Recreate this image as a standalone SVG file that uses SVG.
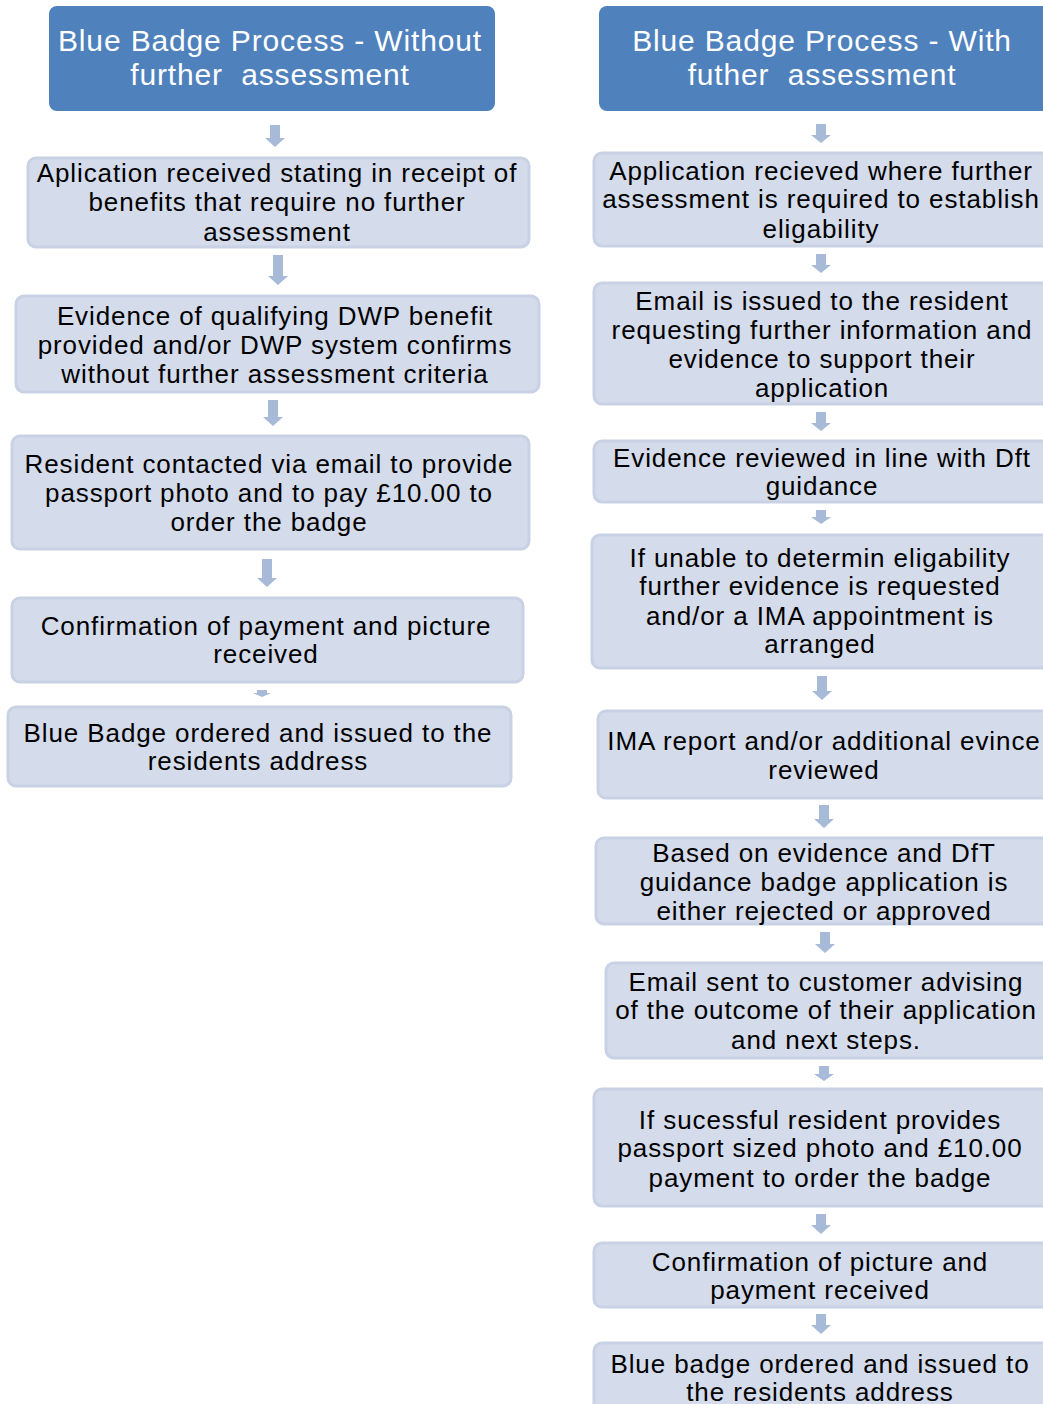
<svg xmlns="http://www.w3.org/2000/svg" width="1043" height="1404" viewBox="0 0 1043 1404">
<style>
.hdr{fill:#4F81BD;}
.box{fill:#D4DBEA;stroke:#C9D2E5;stroke-width:3;}
.arr{fill:#A7BAD8;}
text{font-family:"Liberation Sans",Arial,sans-serif;text-anchor:middle;}
.ht{fill:#FFFFFF;font-size:30px;letter-spacing:0.85px;white-space:pre;}
.bt{fill:#000000;font-size:26px;letter-spacing:0.9px;}
</style>
<rect width="1043" height="1404" fill="#FFFFFF"/>
<g id="connectors">
<path class="arr" d="M270,125h10v13h5l-10,9l-10,-9h5z"/>
<path class="arr" d="M273,255h10v21h5l-10,9l-10,-9h5z"/>
<path class="arr" d="M268,400h10v17h5l-10,9l-10,-9h5z"/>
<path class="arr" d="M262,559h10v19h5l-10,9l-10,-9h5z"/>
<path class="arr" d="M257,690h10v3h4l-9,4l-9,-4h4z"/>
<path class="arr" d="M816,124h10v11h5l-10,8l-10,-8h5z"/>
<path class="arr" d="M816,254h10v11h5l-10,8l-10,-8h5z"/>
<path class="arr" d="M816,412h10v11h5l-10,8l-10,-8h5z"/>
<path class="arr" d="M816,510h10v7h5l-10,7l-10,-7h5z"/>
<path class="arr" d="M817,676h10v15h5l-10,9l-10,-9h5z"/>
<path class="arr" d="M819,805h10v14h5l-10,9l-10,-9h5z"/>
<path class="arr" d="M820,932h10v12h5l-10,9l-10,-9h5z"/>
<path class="arr" d="M819,1066h10v8h5l-10,7l-10,-7h5z"/>
<path class="arr" d="M816,1214h10v11h5l-10,9l-10,-9h5z"/>
<path class="arr" d="M816,1314h10v11h5l-10,9l-10,-9h5z"/>
</g>
<g id="left-header">
<rect class="hdr" x="49" y="6" width="446" height="105" rx="8"/>
<text class="ht" x="270" y="51">Blue Badge Process - Without</text>
<text class="ht" x="270" y="85">further  assessment</text>
</g>
<g id="left-1">
<rect class="box" x="28" y="158" width="501" height="89" rx="8"/>
<text class="bt" x="277" y="182">Aplication received stating in receipt of</text>
<text class="bt" x="277" y="211">benefits that require no further</text>
<text class="bt" x="277" y="241">assessment</text>
</g>
<g id="left-2">
<rect class="box" x="16" y="296" width="523" height="96" rx="8"/>
<text class="bt" x="275" y="325">Evidence of qualifying DWP benefit</text>
<text class="bt" x="275" y="354">provided and/or DWP system confirms</text>
<text class="bt" x="275" y="383">without further assessment criteria</text>
</g>
<g id="left-3">
<rect class="box" x="12" y="436" width="517" height="113" rx="8"/>
<text class="bt" x="269" y="473">Resident contacted via email to provide</text>
<text class="bt" x="269" y="502">passport photo and to pay £10.00 to</text>
<text class="bt" x="269" y="531">order the badge</text>
</g>
<g id="left-4">
<rect class="box" x="12" y="598" width="511" height="84" rx="8"/>
<text class="bt" x="266" y="635">Confirmation of payment and picture</text>
<text class="bt" x="266" y="663">received</text>
</g>
<g id="left-5">
<rect class="box" x="8" y="707" width="503" height="79" rx="8"/>
<text class="bt" x="258" y="742">Blue Badge ordered and issued to the</text>
<text class="bt" x="258" y="770">residents address</text>
</g>
<g id="right-header">
<rect class="hdr" x="599" y="6" width="454" height="105" rx="8"/>
<text class="ht" x="822" y="51">Blue Badge Process - With</text>
<text class="ht" x="822" y="85">futher  assessment</text>
</g>
<g id="right-1">
<rect class="box" x="594" y="153" width="460" height="93" rx="8"/>
<text class="bt" x="821" y="180">Application recieved where further</text>
<text class="bt" x="821" y="208">assessment is required to establish</text>
<text class="bt" x="821" y="238">eligability</text>
</g>
<g id="right-2">
<rect class="box" x="594" y="283" width="460" height="121" rx="8"/>
<text class="bt" x="822" y="310">Email is issued to the resident</text>
<text class="bt" x="822" y="339">requesting further information and</text>
<text class="bt" x="822" y="368">evidence to support their</text>
<text class="bt" x="822" y="397">application</text>
</g>
<g id="right-3">
<rect class="box" x="594" y="441" width="460" height="61" rx="8"/>
<text class="bt" x="822" y="467">Evidence reviewed in line with Dft</text>
<text class="bt" x="822" y="495">guidance</text>
</g>
<g id="right-4">
<rect class="box" x="592" y="535" width="462" height="133" rx="8"/>
<text class="bt" x="820" y="567">If unable to determin eligability</text>
<text class="bt" x="820" y="595">further evidence is requested</text>
<text class="bt" x="820" y="625">and/or a IMA appointment is</text>
<text class="bt" x="820" y="653">arranged</text>
</g>
<g id="right-5">
<rect class="box" x="598" y="711" width="456" height="87" rx="8"/>
<text class="bt" x="824" y="750">IMA report and/or additional evince</text>
<text class="bt" x="824" y="779">reviewed</text>
</g>
<g id="right-6">
<rect class="box" x="596" y="838" width="458" height="86" rx="8"/>
<text class="bt" x="824" y="862">Based on evidence and DfT</text>
<text class="bt" x="824" y="891">guidance badge application is</text>
<text class="bt" x="824" y="920">either rejected or approved</text>
</g>
<g id="right-7">
<rect class="box" x="606" y="963" width="448" height="95" rx="8"/>
<text class="bt" x="826" y="991">Email sent to customer advising</text>
<text class="bt" x="826" y="1019">of the outcome of their application</text>
<text class="bt" x="826" y="1049">and next steps.</text>
</g>
<g id="right-8">
<rect class="box" x="594" y="1089" width="460" height="117" rx="8"/>
<text class="bt" x="820" y="1129">If sucessful resident provides</text>
<text class="bt" x="820" y="1157">passport sized photo and £10.00</text>
<text class="bt" x="820" y="1187">payment to order the badge</text>
</g>
<g id="right-9">
<rect class="box" x="594" y="1243" width="460" height="64" rx="8"/>
<text class="bt" x="820" y="1271">Confirmation of picture and</text>
<text class="bt" x="820" y="1299">payment received</text>
</g>
<g id="right-10">
<rect class="box" x="594" y="1343" width="460" height="80" rx="8"/>
<text class="bt" x="820" y="1373">Blue badge ordered and issued to</text>
<text class="bt" x="820" y="1401">the residents address</text>
</g>
</svg>
